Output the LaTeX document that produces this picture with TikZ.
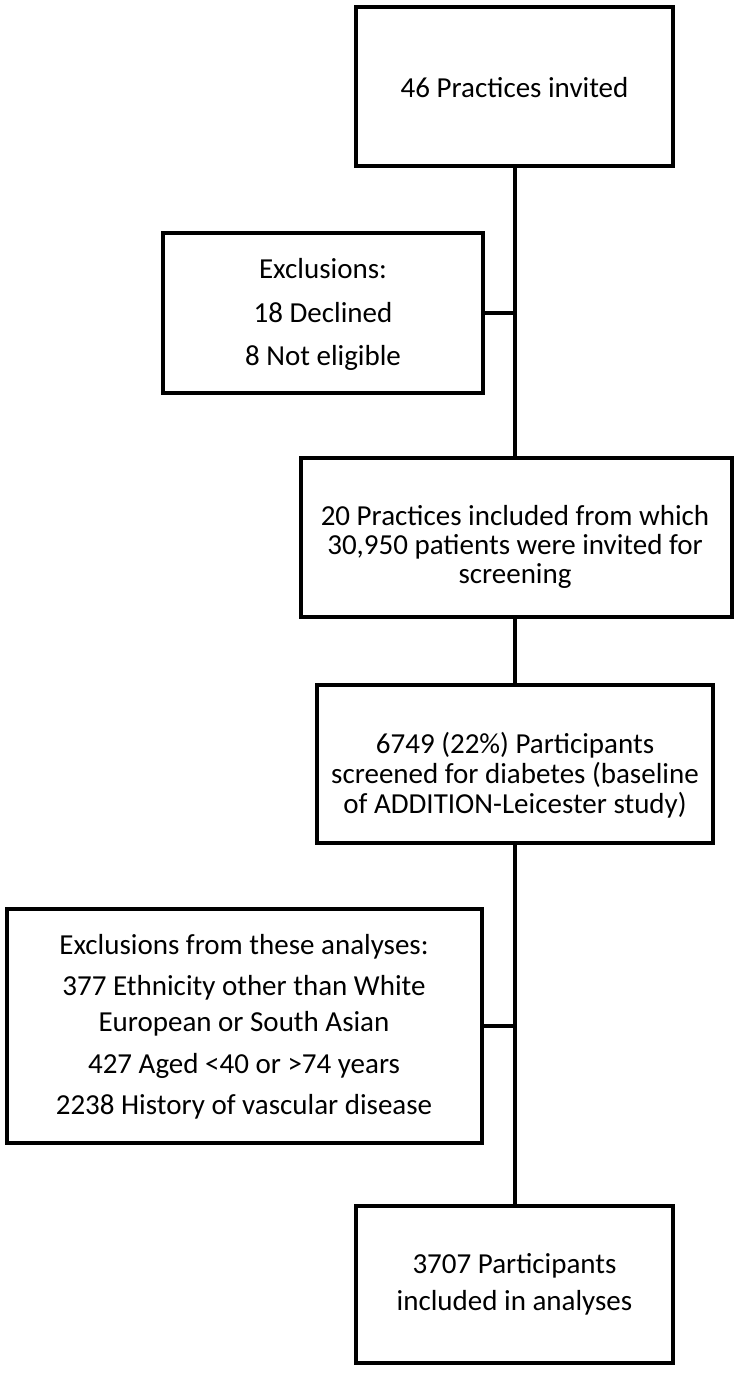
\documentclass[tikz,border=0pt]{standalone}
\usepackage{fontspec}
\setmainfont{Carlito}
\begin{document}
\begin{tikzpicture}[x=1pt,y=-1pt,
  box/.style={draw=black, line width=4pt, fill=white, inner sep=0pt},
  txt/.style={anchor=base, inner sep=0pt, font=\fontsize{29}{34}\selectfont},
  conn/.style={draw=black, line width=4pt}]
\useasboundingbox[fill=white] (0,0) rectangle (740,1374);
% boxes
\node[box, minimum width=317pt, minimum height=159pt] (b1) at (514.5,86.5) {};
\node[box, minimum width=320pt, minimum height=160pt] (b2) at (323,313) {};
\node[box, minimum width=431pt, minimum height=159pt] (b3) at (516.5,537.5) {};
\node[box, minimum width=396pt, minimum height=158pt] (b4) at (515,764) {};
\node[box, minimum width=475pt, minimum height=234pt] (b5) at (244.5,1026) {};
\node[box, minimum width=317pt, minimum height=157pt] (b6) at (514.5,1284.5) {};
% connectors
\draw[conn] (b1.south) -- (b1.south |- b3.north);
\draw[conn] (b3.south -| b4.north) -- (b4.north);
\draw[conn] (b4.south) -- (b4.south |- b6.north);
\draw[conn] (b2.east) -- (b2.east -| b4.north);
\draw[conn] (b5.east) -- (b5.east -| b4.north);
% texts
\node[txt] (t1) at (514.5,97) {46 Practices invited};
\node[txt] (t2a) at (323,278) {Exclusions:};
\node[txt] (t2b) at (323,322) {18 Declined};
\node[txt] (t2c) at (323,365) {8 Not eligible};
\node[txt] (t3a) at (515,525) {20 Practices included from which};
\node[txt] (t3b) at (515,554) {30,950 patients were invited for};
\node[txt] (t3c) at (515,583) {screening};
\node[txt] (t4a) at (515,753) {6749 (22\%) Participants};
\node[txt] (t4b) at (515,783) {screened for diabetes (baseline};
\node[txt] (t4c) at (515,813) {of ADDITION-Leicester study)};
\node[txt] (t5a) at (244,954) {Exclusions from these analyses:};
\node[txt] (t5b) at (244,995) {377 Ethnicity other than White};
\node[txt] (t5c) at (244,1031) {European or South Asian};
\node[txt] (t5d) at (244,1073) {427 Aged <40 or >74 years};
\node[txt] (t5e) at (244,1114) {2238 History of vascular disease};
\node[txt] (t6a) at (514.5,1273) {3707 Participants};
\node[txt] (t6b) at (514.5,1310) {included in analyses};
\end{tikzpicture}
\end{document}
